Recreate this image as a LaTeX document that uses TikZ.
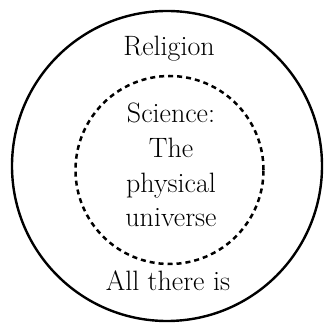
\documentclass[tikz,border=0pt]{standalone}
\begin{document}
\begin{tikzpicture}[x=1pt,y=1pt,
  lbl/.style={anchor=base, inner sep=0pt, font=\fontsize{28}{32}\selectfont},
  outer/.style={line width=2.4pt},
  inner/.style={line width=2.5pt, dash pattern=on 5pt off 4pt}]
\useasboundingbox (0,0) rectangle (323,323);
\draw[outer] (167,157) circle (155);
\draw[inner] (169.5,153) circle (94);
\node[lbl] (rel) at (169,267.5) {Religion};
\node[lbl] (sci) at (171,200) {Science:};
\node[lbl] (the) at (171,165) {The};
\node[lbl] (phy) at (171,130) {physical};
\node[lbl] (uni) at (171,96) {universe};
\node[lbl] (all) at (168,32) {All there is};
\end{tikzpicture}
\end{document}
